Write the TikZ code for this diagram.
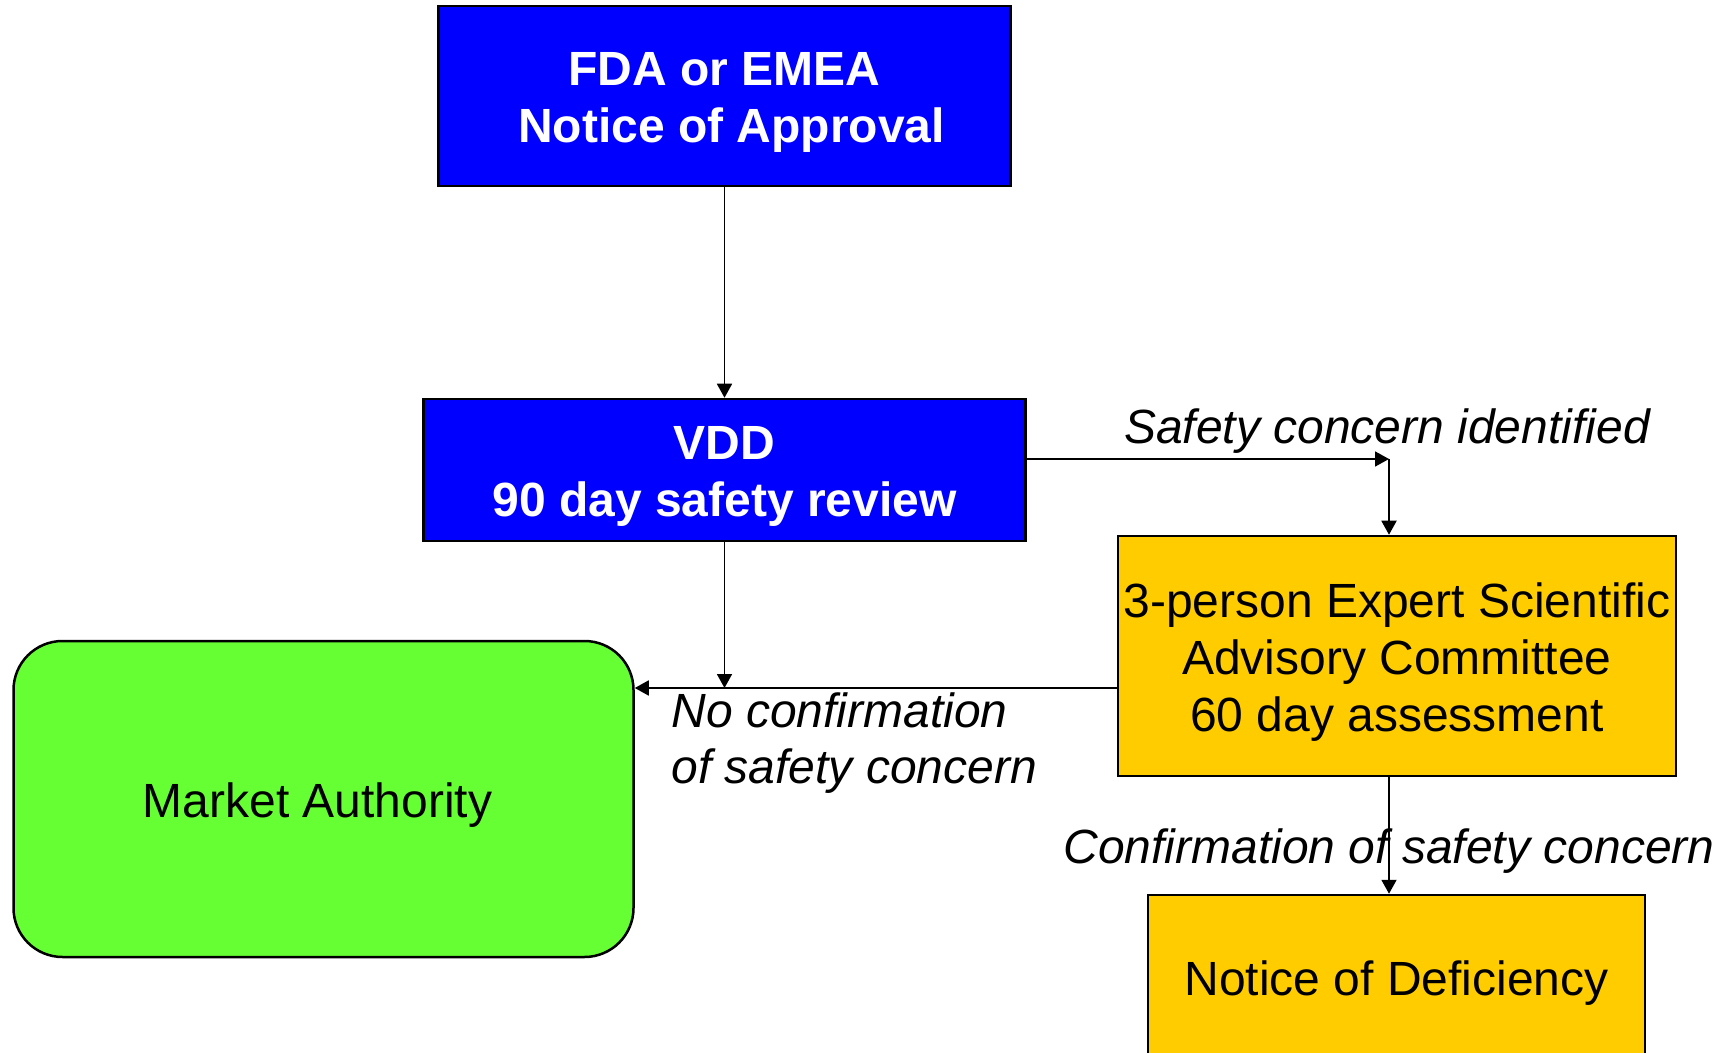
\documentclass[tikz,border=0pt]{standalone}
\usepackage{fontspec}
\setmainfont{Liberation Sans}
\usepackage{xcolor}
\usetikzlibrary{arrows.meta}
\definecolor{fdablue}{HTML}{0000FF}
\definecolor{mkgreen}{HTML}{66FF33}
\definecolor{panelgold}{HTML}{FFCC00}
\newcommand\boxstrut{\rule{0pt}{23pt}}
\tikzset{
  box/.style={draw=black, line width=1.25pt, inner sep=0pt, align=center, font=\fontsize{24}{28.5}\selectfont},
  bluebox/.style={box, fill=fdablue, text=white, font=\fontsize{24}{28.5}\selectfont\bfseries},
  goldbox/.style={box, fill=panelgold},
  greenbox/.style={box, fill=mkgreen, rounded corners=24.5pt},
  arr/.style={draw=black, line width=0.9pt, -{Triangle[length=7pt,width=7.5pt]}},
  lab/.style={inner sep=0pt, font=\fontsize{24}{28}\selectfont\itshape},
}

\begin{document}
\begin{tikzpicture}[x=0.5pt,y=-0.5pt]
  \useasboundingbox (0,0) rectangle (1736,1053);

  % boxes
  \node[bluebox, minimum width=286pt, minimum height=90pt] (approval) at (724.5,96) {\boxstrut FDA or EMEA\\\hspace{7pt}Notice of Approval};
  \node[bluebox, minimum width=301pt, minimum height=71pt] (vdd) at (724.5,470) {\boxstrut VDD\\90 day safety review};
  \node[goldbox, minimum width=279pt, minimum height=120pt] (sac) at (1397,656) {\boxstrut 3-person Expert Scientific\\Advisory Committee\\60 day assessment};
  \node[greenbox, minimum width=310pt, minimum height=158pt] (market) at (323.5,799) {\boxstrut Market Authority\hspace{6pt}};
  \node[goldbox, minimum width=248.5pt, minimum height=82pt] (nod) at (1396.5,977) {\boxstrut Notice of Deficiency};

  \coordinate (turn) at (1389,459);
  \coordinate (join) at (724.5,688);

  % connectors
  \draw[arr] (approval.south) -- (vdd.north);
  \draw[arr] (vdd.east |- turn) -- (turn);
  \draw[arr] (turn) -- (turn |- sac.north);
  \draw[arr] (vdd.south) -- (join);
  \draw[arr] (sac.west |- join) -- (market.east |- join);
  \draw[arr] (sac.south -| turn) -- (nod.north -| turn);

  % labels
  \node[lab, anchor=base] (safetylab) at (1387,444) {Safety concern identified};
  \node[lab, anchor=base west, align=left] (nolab) at (671,783) {No confirmation\\of safety concern};
  \node[lab, anchor=base] (conflab) at (1389,863) {Confirmation of safety concern};
\end{tikzpicture}
\end{document}
